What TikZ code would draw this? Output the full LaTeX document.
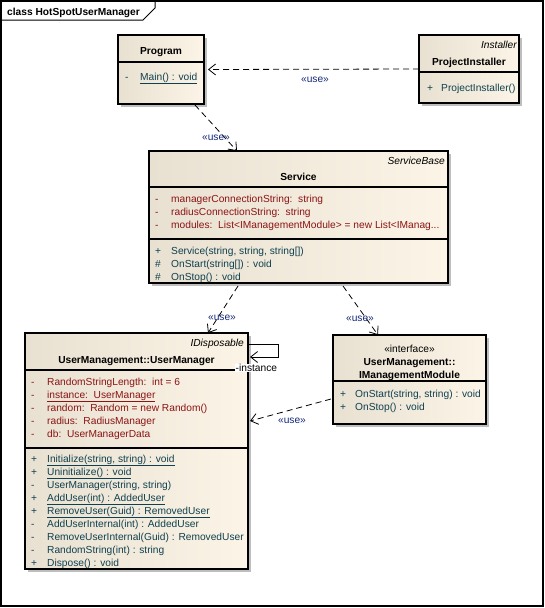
\documentclass[tikz,border=0pt]{standalone}
\usepackage{fontspec}
\setmainfont{Liberation Sans}
\usetikzlibrary{arrows.meta,shadows,calc}
\definecolor{attrc}{RGB}{140,20,20}
\definecolor{opc}{RGB}{15,65,80}
\definecolor{usec}{RGB}{20,40,120}
\definecolor{fillL}{RGB}{232,224,209}
\definecolor{fillR}{RGB}{252,244,230}
\definecolor{shadowc}{RGB}{190,190,190}
\newcommand\umlfont{\fontsize{10.2}{11}\selectfont}
\begin{document}
\begin{tikzpicture}[x=1pt,y=-1pt,
  umlbox/.style={draw=black, line width=1.1pt, left color=fillL, right color=fillR,
    drop shadow={shadow xshift=3pt, shadow yshift=-3pt, fill=shadowc, opacity=1, draw=none},
    inner sep=0pt, outer sep=0pt, anchor=north west},
  sepline/.style={draw=black, line width=1.1pt},
  txt/.style={anchor=base west, inner sep=0pt, font=\umlfont},
  attr/.style={txt, text=attrc},
  op/.style={txt, text=opc},
  ttl/.style={anchor=base, inner sep=0pt, font=\umlfont\bfseries},
  stereo/.style={anchor=base east, inner sep=0pt, font=\umlfont\itshape},
  usearrow/.style={line width=0.8pt, dash pattern=on 6pt off 4pt, -{Straight Barb[length=7pt,width=11pt]}},
  uselbl/.style={inner sep=1pt, font=\umlfont, text=usec},
]
\useasboundingbox (0,0) rectangle (545,608);
% frame
\draw[line width=1.2pt] (1,1) rectangle (543,606);
\draw[line width=1pt] (1,20) -- (143,20) -- (155,8) -- (155,1);
\node[anchor=base west, inner sep=0pt, font=\umlfont\bfseries] (frametitle) at (7,15) {class HotSpotUserManager};

% Program
\node[umlbox, minimum width=86pt, minimum height=69pt] (prog) at (118,35) {};
\draw[sepline] (prog.west |- 0,62) -- (prog.east |- 0,62);
\node[ttl] (progT) at (161,54) {Program};
\node[op] (progM1) at (125,80) {-};
\node[op] (progO1) at (140,80) {\underline{Main() : void}};

% ProjectInstaller
\node[umlbox, minimum width=100pt, minimum height=68pt] (pi) at (419,35) {};
\draw[sepline] (pi.west |- 0,72) -- (pi.east |- 0,72);
\node[stereo] (piS) at (517,48) {Installer};
\node[ttl] (piT) at (469,65) {ProjectInstaller};
\node[op] (piM1) at (427,91) {+};
\node[op] (piO1) at (441,91) {ProjectInstaller()};

% Service
\node[umlbox, minimum width=299pt, minimum height=132pt] (svc) at (149,151) {};
\draw[sepline] (svc.west |- 0,187) -- (svc.east |- 0,187);
\draw[sepline] (svc.west |- 0,239) -- (svc.east |- 0,239);
\node[stereo] (svcS) at (445,164) {ServiceBase};
\node[ttl] (svcT) at (298.5,180) {Service};
\node[attr] (svcM1) at (155,202) {-};
\node[attr] (svcA1) at (171,202) {managerConnectionString:\ \ string};
\node[attr] (svcM2) at (155,215) {-};
\node[attr] (svcA2) at (171,215) {radiusConnectionString:\ \ string};
\node[attr] (svcM3) at (155,228) {-};
\node[attr] (svcA3) at (171,228) {modules:\ \ List<IManagementModule> = new List<IManag...};
\node[op] (svcM4) at (155,254) {+};
\node[op] (svcO1) at (171,254) {Service(string, string, string[])};
\node[op] (svcM5) at (155,267) {\#};
\node[op] (svcO2) at (171,267) {OnStart(string[]) : void};
\node[op] (svcM6) at (155,280) {\#};
\node[op] (svcO3) at (171,280) {OnStop() : void};

% UserManager
\node[umlbox, minimum width=223pt, minimum height=236pt] (um) at (25,333) {};
\draw[sepline] (um.west |- 0,370) -- (um.east |- 0,370);
\draw[sepline] (um.west |- 0,448) -- (um.east |- 0,448);
\node[stereo] (umS) at (244,346) {IDisposable};
\node[ttl] (umT) at (136.5,363) {UserManagement::UserManager};
\node[attr] (umM1) at (31,385) {-};
\node[attr] (umA1) at (47,385) {RandomStringLength:\ \ int = 6};
\node[attr] (umM2) at (31,398) {-};
\node[attr] (umA2) at (47,398) {\underline{instance:\ \ UserManager}};
\node[attr] (umM3) at (31,411) {-};
\node[attr] (umA3) at (47,411) {random:\ \ Random = new Random()};
\node[attr] (umM4) at (31,424) {-};
\node[attr] (umA4) at (47,424) {radius:\ \ RadiusManager};
\node[attr] (umM5) at (31,437) {-};
\node[attr] (umA5) at (47,437) {db:\ \ UserManagerData};
\node[op] (umN1) at (31,462) {+};
\node[op] (umO1) at (47,462) {\underline{Initialize(string, string) : void}};
\node[op] (umN2) at (31,475) {+};
\node[op] (umO2) at (47,475) {\underline{Uninitialize() : void}};
\node[op] (umN3) at (31,488) {-};
\node[op] (umO3) at (47,488) {UserManager(string, string)};
\node[op] (umN4) at (31,501) {+};
\node[op] (umO4) at (47,501) {\underline{AddUser(int) : AddedUser}};
\node[op] (umN5) at (31,514) {+};
\node[op] (umO5) at (47,514) {\underline{RemoveUser(Guid) : RemovedUser}};
\node[op] (umN6) at (31,527) {-};
\node[op] (umO6) at (47,527) {AddUserInternal(int) : AddedUser};
\node[op] (umN7) at (31,540) {-};
\node[op] (umO7) at (47,540) {RemoveUserInternal(Guid) : RemovedUser};
\node[op] (umN8) at (31,553) {-};
\node[op] (umO8) at (47,553) {RandomString(int) : string};
\node[op] (umN9) at (31,566) {+};
\node[op] (umO9) at (47,566) {Dispose() : void};

% IManagementModule
\node[umlbox, minimum width=153pt, minimum height=89pt] (imm) at (333,335) {};
\draw[sepline] (imm.west |- 0,381) -- (imm.east |- 0,381);
\node[anchor=base, inner sep=0pt, font=\umlfont] (immS) at (409.5,352) {«interface»};
\node[ttl] (immT1) at (409.5,365) {UserManagement::};
\node[ttl] (immT2) at (409.5,378) {IManagementModule};
\node[op] (immN1) at (340,397) {+};
\node[op] (immO1) at (355,397) {OnStart(string, string) : void};
\node[op] (immN2) at (340,410) {+};
\node[op] (immO2) at (355,410) {OnStop() : void};

% connectors
\draw[usearrow] (pi.west) -- ($(prog.east)+(4,0)$);
\node[uselbl] (lbl1) at (315,80) {«use»};

\draw[usearrow] ($(prog.south east)+(-9,1)$) -- ($(svc.north west)+(88,0)$);
\node[uselbl] (lbl2) at (216,138) {«use»};

\draw[usearrow] ($(svc.south west)+(89,3)$) -- ($(um.north west)+(183,0)$);
\node[uselbl] (lbl3) at (222,318) {«use»};

\draw[usearrow] ($(svc.south west)+(194,3)$) -- ($(imm.north west)+(45,0)$);
\node[uselbl] (lbl4) at (360,319) {«use»};

\draw[usearrow] ($(imm.west)+(-2,19.5)$) -- ($(um.east)+(2,-30)$);
\node[uselbl] (lbl5) at (292,421) {«use»};

% self association
\coordinate (selfA) at ($(um.north east)+(0,11)$);
\coordinate (selfB) at ($(um.north east)+(2,24)$);
\draw[line width=0.8pt, -{Straight Barb[length=7pt,width=11pt]}] (selfA) -- ++(30,0) -- ++(0,13) -- (selfB);
\node[anchor=west, fill=white, inner sep=0.5pt, font=\umlfont] (instlbl) at (235,368) {-instance};
\end{tikzpicture}
\end{document}
